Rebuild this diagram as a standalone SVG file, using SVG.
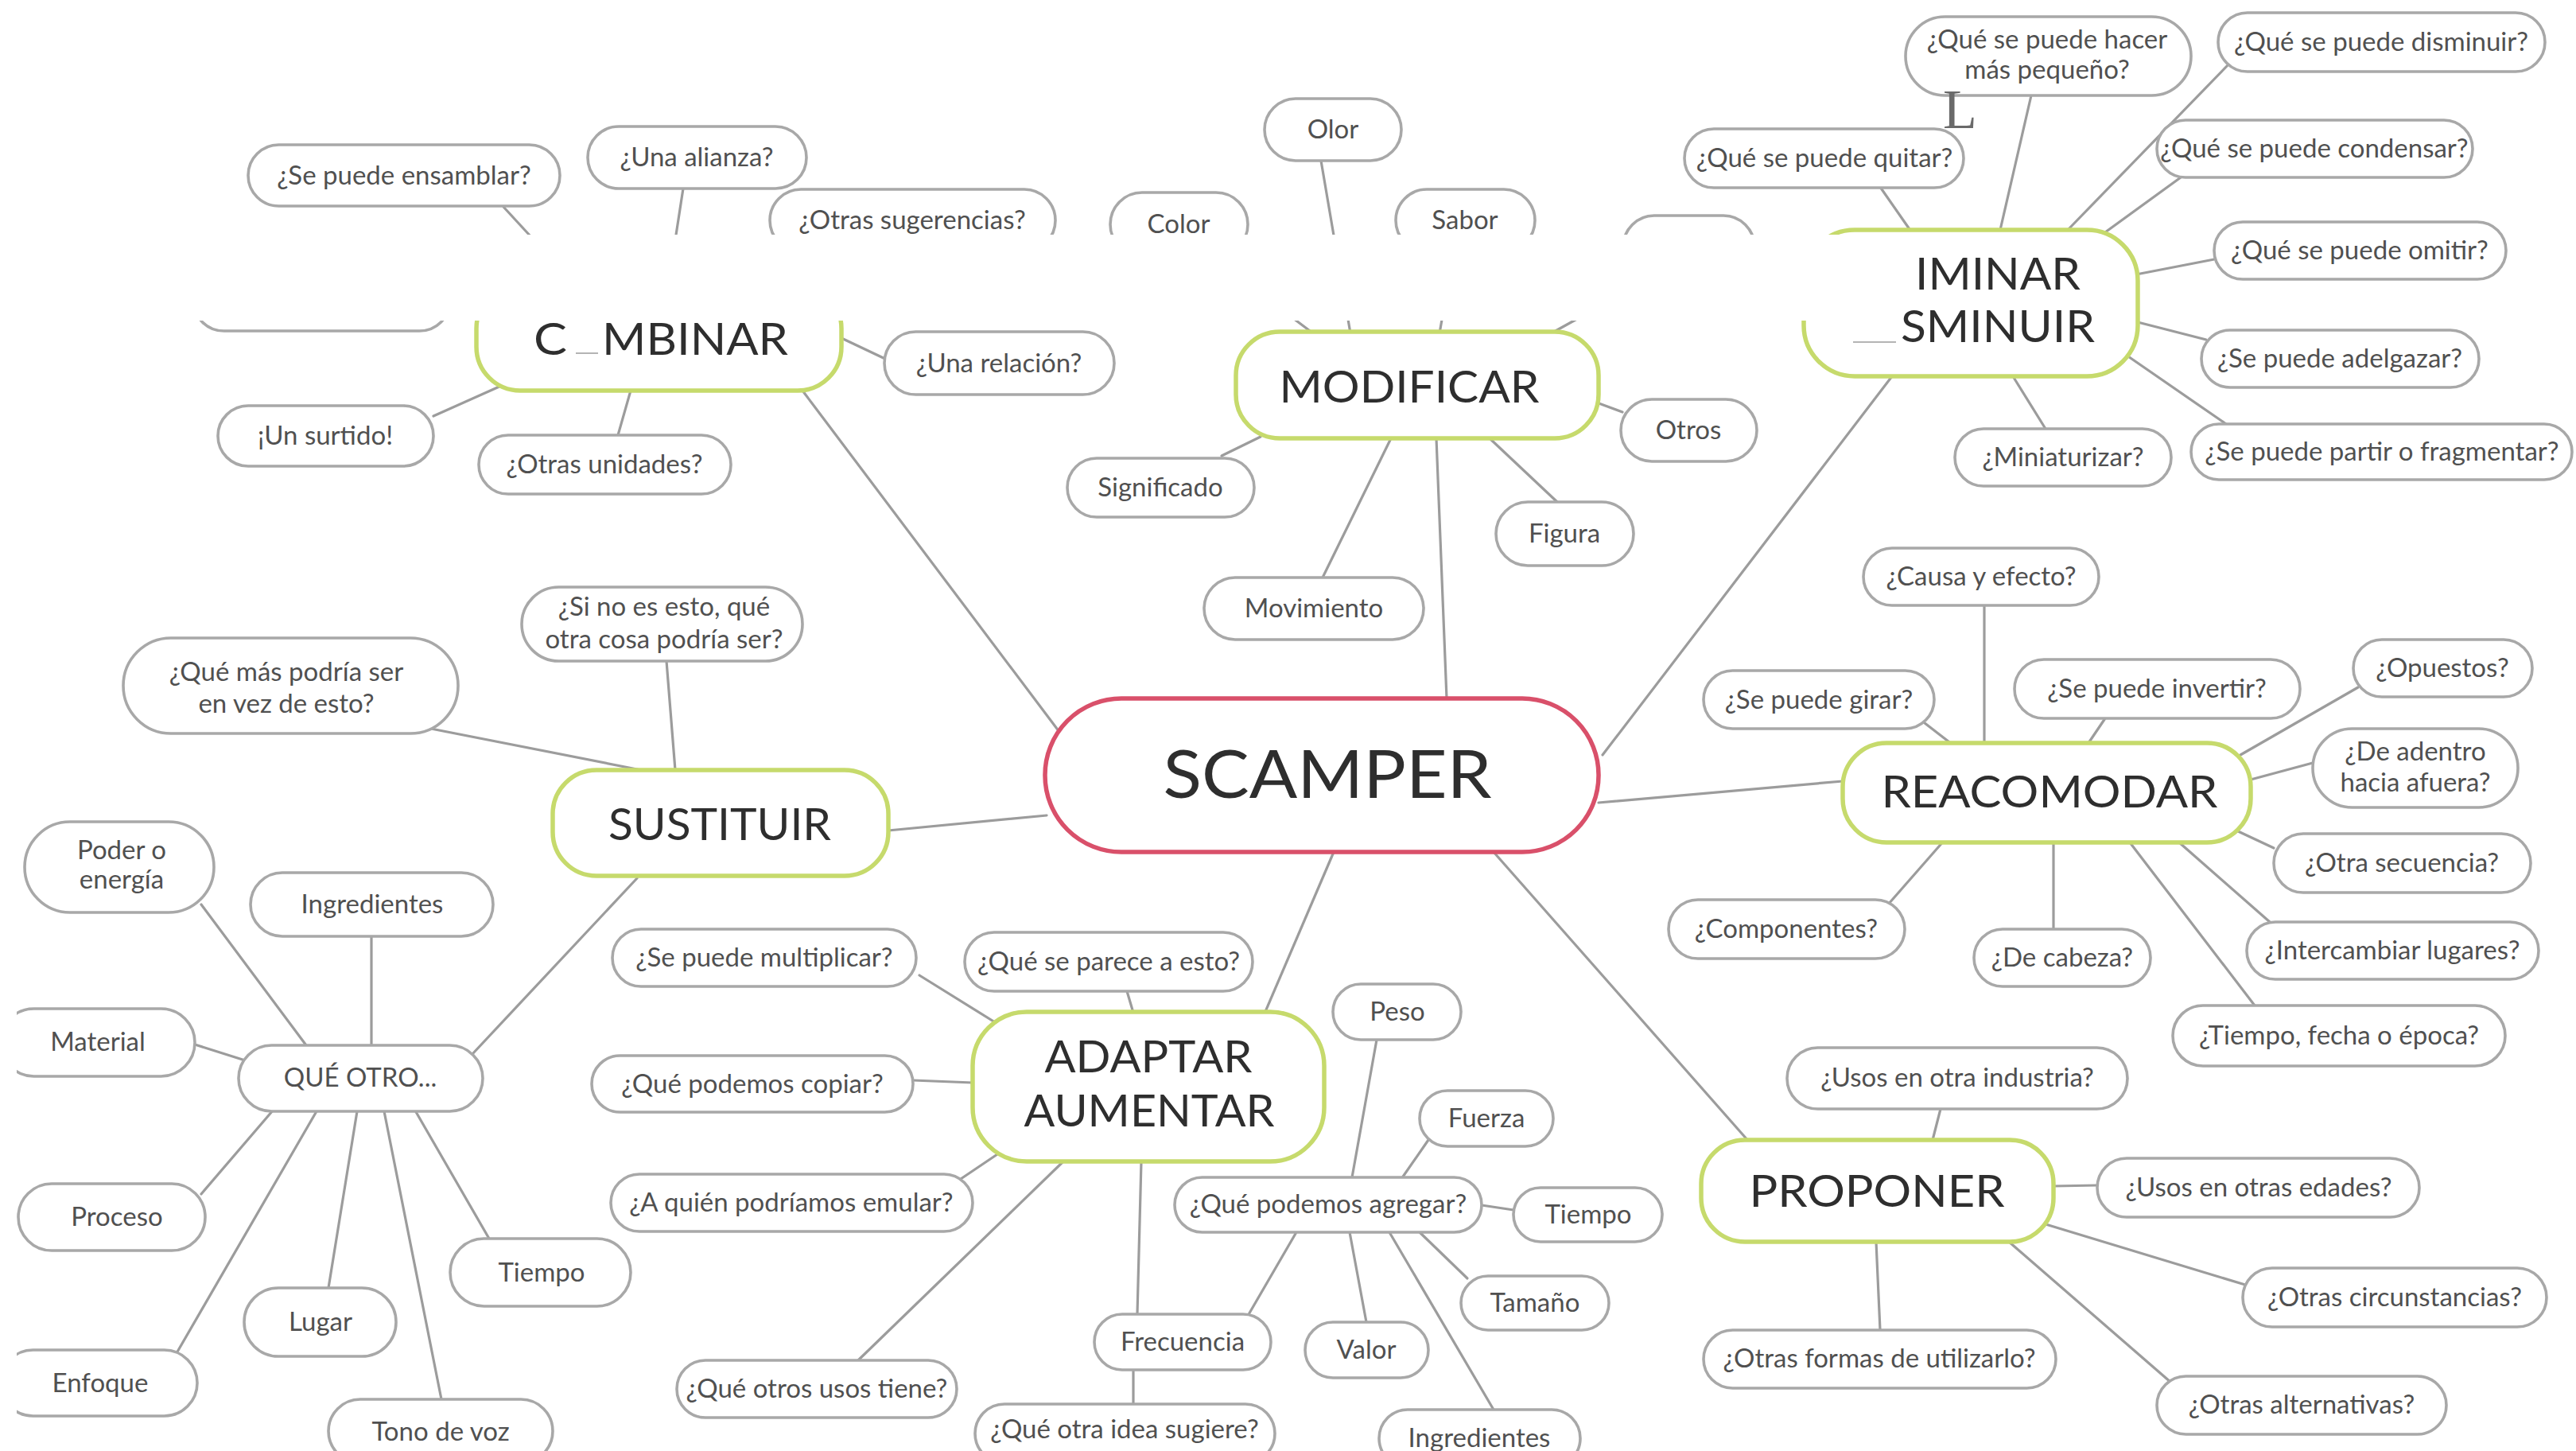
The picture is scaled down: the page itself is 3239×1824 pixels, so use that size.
<svg xmlns="http://www.w3.org/2000/svg" width="3239" height="1824" viewBox="0 0 3239 1824">
<defs>
<style>
.bg{fill:#ffffff}
.links line{stroke:#9c9c9c;stroke-width:3.2;stroke-linecap:round}
.leaf rect{fill:#ffffff;stroke:#a8a8a8;stroke-width:3.6}
.leaf text{font-family:Lato,"Open Sans","DejaVu Sans",sans-serif;font-size:33px;fill:#505050;text-anchor:middle}
.branch rect{fill:#ffffff;stroke:#c6da6c;stroke-width:5.5}
.branch text{font-family:Lato,"Open Sans","DejaVu Sans",sans-serif;font-size:56px;fill:#2e2e2e}
.root rect{fill:#ffffff;stroke:#d9506a;stroke-width:5.5}
.root text{font-family:Lato,"Open Sans","DejaVu Sans",sans-serif;font-size:84px;fill:#2e2e2e;text-anchor:middle}
.cover{fill:#ffffff}
.mid{text-anchor:middle}
</style>
</defs>
<rect class="bg" x="0" y="0" width="3239" height="1824"/>

<!-- connectors -->
<g id="connectors" class="links">
  <!-- COMBINAR -->
  <line x1="633" y1="260" x2="727" y2="362"/>
  <line x1="859" y1="237" x2="840" y2="360"/>
  <line x1="545" y1="523" x2="630" y2="485"/>
  <line x1="793" y1="491" x2="777" y2="547"/>
  <line x1="1058" y1="425" x2="1115" y2="452"/>
  <line x1="1009" y1="491" x2="1332" y2="920"/>
  <!-- MODIFICAR -->
  <line x1="1520" y1="320" x2="1655" y2="422"/>
  <line x1="1661" y1="202" x2="1698" y2="419"/>
  <line x1="1828" y1="316" x2="1810" y2="419"/>
  <line x1="2080" y1="347" x2="1945" y2="422"/>
  <line x1="2005" y1="505" x2="2040" y2="518"/>
  <line x1="1536" y1="573" x2="1585" y2="549"/>
  <line x1="1749" y1="551" x2="1663" y2="726"/>
  <line x1="1873" y1="551" x2="1958" y2="631"/>
  <line x1="1806" y1="551" x2="1819" y2="878"/>
  <!-- ELIMINAR / DISMINUIR -->
  <line x1="2364" y1="235" x2="2403" y2="291"/>
  <line x1="2554" y1="120" x2="2515" y2="289"/>
  <line x1="2802" y1="81" x2="2600" y2="289"/>
  <line x1="2742" y1="223" x2="2647" y2="292"/>
  <line x1="2686" y1="345" x2="2784" y2="326"/>
  <line x1="2688" y1="405" x2="2774" y2="427"/>
  <line x1="2673" y1="446" x2="2799" y2="533"/>
  <line x1="2531" y1="473" x2="2572" y2="539"/>
  <line x1="2379" y1="473" x2="2015" y2="949"/>
  <!-- REACOMODAR -->
  <line x1="2495" y1="761" x2="2495" y2="934"/>
  <line x1="2415" y1="905" x2="2455" y2="936"/>
  <line x1="2647" y1="903" x2="2626" y2="934"/>
  <line x1="2817" y1="949" x2="2965" y2="864"/>
  <line x1="2830" y1="980" x2="2908" y2="959"/>
  <line x1="2812" y1="1044" x2="2859" y2="1066"/>
  <line x1="2740" y1="1059" x2="2854" y2="1159"/>
  <line x1="2582" y1="1059" x2="2582" y2="1168"/>
  <line x1="2678" y1="1059" x2="2835" y2="1264"/>
  <line x1="2374" y1="1137" x2="2445" y2="1056"/>
  <line x1="2010" y1="1009" x2="2317" y2="982"/>
  <!-- SUSTITUIR -->
  <line x1="838" y1="831" x2="849" y2="968"/>
  <line x1="542" y1="916" x2="806" y2="968"/>
  <line x1="1117" y1="1044" x2="1316" y2="1025"/>
  <line x1="801" y1="1104" x2="594" y2="1325"/>
  <line x1="253" y1="1137" x2="385" y2="1314"/>
  <line x1="467" y1="1177" x2="467" y2="1314"/>
  <line x1="245" y1="1313" x2="305" y2="1332"/>
  <line x1="343" y1="1396" x2="253" y2="1501"/>
  <line x1="398" y1="1397" x2="222" y2="1701"/>
  <line x1="449" y1="1397" x2="413" y2="1619"/>
  <line x1="483" y1="1397" x2="555" y2="1759"/>
  <line x1="522" y1="1396" x2="615" y2="1557"/>
  <!-- ADAPTAR / AUMENTAR -->
  <line x1="1677" y1="1071" x2="1590" y2="1274"/>
  <line x1="1417" y1="1246" x2="1425" y2="1273"/>
  <line x1="1156" y1="1226" x2="1259" y2="1290"/>
  <line x1="1148" y1="1358" x2="1223" y2="1361"/>
  <line x1="1208" y1="1482" x2="1257" y2="1449"/>
  <line x1="1337" y1="1460" x2="1079" y2="1710"/>
  <line x1="1435" y1="1460" x2="1430" y2="1652"/>
  <line x1="1425" y1="1722" x2="1425" y2="1765"/>
  <line x1="1569" y1="1654" x2="1630" y2="1549"/>
  <line x1="1731" y1="1307" x2="1700" y2="1480"/>
  <line x1="1796" y1="1433" x2="1762" y2="1482"/>
  <line x1="1863" y1="1515" x2="1903" y2="1521"/>
  <line x1="1785" y1="1549" x2="1845" y2="1607"/>
  <line x1="1697" y1="1549" x2="1718" y2="1662"/>
  <line x1="1747" y1="1549" x2="1878" y2="1772"/>
  <!-- PROPONER -->
  <line x1="1878" y1="1071" x2="2199" y2="1435"/>
  <line x1="2440" y1="1394" x2="2430" y2="1433"/>
  <line x1="2582" y1="1491" x2="2637" y2="1490"/>
  <line x1="2569" y1="1538" x2="2823" y2="1615"/>
  <line x1="2526" y1="1561" x2="2730" y2="1738"/>
  <line x1="2359" y1="1561" x2="2364" y2="1672"/>
</g>

<!-- root -->
<g id="scamper" class="root">
  <rect x="1314" y="878" width="696" height="193" rx="96"/>
  <text x="1669" y="1003" textLength="413" lengthAdjust="spacingAndGlyphs">SCAMPER</text>
</g>

<!-- branches -->
<g id="combinar" class="branch">
  <rect x="599" y="358" width="459" height="133" rx="55"/>
  <text x="671" y="446" textLength="42" lengthAdjust="spacingAndGlyphs">C</text>
  <text x="757" y="446" textLength="234" lengthAdjust="spacingAndGlyphs">MBINAR</text>
</g>
<g id="modificar" class="branch">
  <rect x="1554" y="417" width="456" height="134" rx="55"/>
  <text class="mid" x="1772" y="506" textLength="327" lengthAdjust="spacingAndGlyphs">MODIFICAR</text>
</g>
<g id="eliminar" class="branch">
  <rect x="2268" y="289" width="420" height="184" rx="64"/>
  <text x="2408" y="364" textLength="208" lengthAdjust="spacingAndGlyphs">IMINAR</text>
  <text x="2390" y="430" textLength="244" lengthAdjust="spacingAndGlyphs">SMINUIR</text>
</g>
<g id="sustituir" class="branch">
  <rect x="695" y="968" width="422" height="133" rx="55"/>
  <text class="mid" x="905" y="1056" textLength="280" lengthAdjust="spacingAndGlyphs">SUSTITUIR</text>
</g>
<g id="reacomodar" class="branch">
  <rect x="2317" y="934" width="513" height="125" rx="55"/>
  <text class="mid" x="2577" y="1015" textLength="423" lengthAdjust="spacingAndGlyphs">REACOMODAR</text>
</g>
<g id="adaptar" class="branch">
  <rect x="1223" y="1272" width="442" height="188" rx="68"/>
  <text class="mid" x="1444" y="1348" textLength="261" lengthAdjust="spacingAndGlyphs">ADAPTAR</text>
  <text class="mid" x="1445" y="1416" textLength="315" lengthAdjust="spacingAndGlyphs">AUMENTAR</text>
</g>
<g id="proponer" class="branch">
  <rect x="2139" y="1433" width="443" height="128" rx="55"/>
  <text class="mid" x="2360" y="1517" textLength="321" lengthAdjust="spacingAndGlyphs">PROPONER</text>
</g>

<!-- leaves: COMBINAR -->
<g id="n-ensamblar" class="leaf"><rect x="312" y="182" width="392" height="77" rx="38.5"/><text x="508" y="232">¿Se puede ensamblar?</text></g>
<g id="n-alianza" class="leaf"><rect x="739" y="159" width="275" height="78" rx="39"/><text x="876" y="209">¿Una alianza?</text></g>
<g id="n-sugerencias" class="leaf"><rect x="968" y="238" width="359" height="78" rx="39"/><text x="1147" y="288">¿Otras sugerencias?</text></g>
<g id="n-oculto-izq" class="leaf"><rect x="243" y="339" width="323" height="77" rx="38.5"/></g>
<g id="n-relacion" class="leaf"><rect x="1112" y="417" width="289" height="79" rx="39.5"/><text x="1256" y="468">¿Una relación?</text></g>
<g id="n-surtido" class="leaf"><rect x="274" y="510" width="271" height="76" rx="38"/><text x="409" y="559">¡Un surtido!</text></g>
<g id="n-unidades" class="leaf"><rect x="602" y="547" width="317" height="74" rx="37"/><text x="760" y="595">¿Otras unidades?</text></g>

<!-- leaves: MODIFICAR -->
<g id="n-color" class="leaf"><rect x="1396" y="242" width="173" height="80" rx="40"/><text x="1482" y="293">Color</text></g>
<g id="n-olor" class="leaf"><rect x="1590" y="124" width="172" height="78" rx="39"/><text x="1676" y="174">Olor</text></g>
<g id="n-sabor" class="leaf"><rect x="1755" y="238" width="175" height="78" rx="39"/><text x="1842" y="288">Sabor</text></g>
<g id="n-oculto-der" class="leaf"><rect x="2041" y="271" width="165" height="78" rx="39"/></g>
<g id="n-significado" class="leaf"><rect x="1342" y="576" width="235" height="74" rx="37"/><text x="1459" y="624">Significado</text></g>
<g id="n-otros" class="leaf"><rect x="2038" y="502" width="171" height="78" rx="39"/><text x="2123" y="552">Otros</text></g>
<g id="n-figura" class="leaf"><rect x="1881" y="631" width="173" height="80" rx="40"/><text x="1967" y="682">Figura</text></g>
<g id="n-movimiento" class="leaf"><rect x="1514" y="726" width="276" height="78" rx="39"/><text x="1652" y="776">Movimiento</text></g>

<!-- leaves: ELIMINAR / DISMINUIR -->
<g id="n-quitar" class="leaf"><rect x="2118" y="162" width="351" height="74" rx="37"/><text x="2294" y="210">¿Qué se puede quitar?</text></g>
<g id="n-pequeno" class="leaf"><rect x="2396" y="21" width="359" height="99" rx="49.5"/><text><tspan x="2574" y="61">¿Qué se puede hacer</tspan><tspan x="2574" y="99">más pequeño?</tspan></text></g>
<g id="n-disminuir" class="leaf"><rect x="2789" y="16" width="411" height="74" rx="37"/><text x="2994" y="64">¿Qué se puede disminuir?</text></g>
<g id="n-condensar" class="leaf"><rect x="2712" y="151" width="397" height="72" rx="36"/><text x="2910" y="198">¿Qué se puede condensar?</text></g>
<g id="n-omitir" class="leaf"><rect x="2784" y="279" width="367" height="72" rx="36"/><text x="2967" y="326">¿Qué se puede omitir?</text></g>
<g id="n-adelgazar" class="leaf"><rect x="2768" y="415" width="349" height="72" rx="36"/><text x="2942" y="462">¿Se puede adelgazar?</text></g>
<g id="n-partir" class="leaf"><rect x="2755" y="533" width="479" height="70" rx="35"/><text x="2995" y="579">¿Se puede partir o fragmentar?</text></g>
<g id="n-miniaturizar" class="leaf"><rect x="2458" y="539" width="272" height="72" rx="36"/><text x="2594" y="586">¿Miniaturizar?</text></g>

<!-- leaves: REACOMODAR -->
<g id="n-causa" class="leaf"><rect x="2343" y="689" width="296" height="72" rx="36"/><text x="2491" y="736">¿Causa y efecto?</text></g>
<g id="n-girar" class="leaf"><rect x="2142" y="843" width="290" height="73" rx="36.5"/><text x="2287" y="891">¿Se puede girar?</text></g>
<g id="n-invertir" class="leaf"><rect x="2533" y="829" width="359" height="74" rx="37"/><text x="2712" y="877">¿Se puede invertir?</text></g>
<g id="n-opuestos" class="leaf"><rect x="2959" y="804" width="225" height="72" rx="36"/><text x="3071" y="851">¿Opuestos?</text></g>
<g id="n-adentro" class="leaf"><rect x="2908" y="916" width="258" height="99" rx="49.5"/><text><tspan x="3037" y="956">¿De adentro</tspan><tspan x="3037" y="995">hacia afuera?</tspan></text></g>
<g id="n-secuencia" class="leaf"><rect x="2859" y="1048" width="323" height="74" rx="37"/><text x="3020" y="1096">¿Otra secuencia?</text></g>
<g id="n-intercambiar" class="leaf"><rect x="2825" y="1159" width="367" height="72" rx="36"/><text x="3008" y="1206">¿Intercambiar lugares?</text></g>
<g id="n-componentes" class="leaf"><rect x="2098" y="1131" width="297" height="74" rx="37"/><text x="2246" y="1179">¿Componentes?</text></g>
<g id="n-cabeza" class="leaf"><rect x="2482" y="1168" width="222" height="72" rx="36"/><text x="2593" y="1215">¿De cabeza?</text></g>
<g id="n-tiempofecha" class="leaf"><rect x="2732" y="1264" width="418" height="76" rx="38"/><text x="2941" y="1313">¿Tiempo, fecha o época?</text></g>

<!-- leaves: PROPONER -->
<g id="n-industria" class="leaf"><rect x="2247" y="1317" width="428" height="77" rx="38.5"/><text x="2461" y="1366">¿Usos en otra industria?</text></g>
<g id="n-edades" class="leaf"><rect x="2637" y="1456" width="405" height="74" rx="37"/><text x="2840" y="1504">¿Usos en otras edades?</text></g>
<g id="n-circunstancias" class="leaf"><rect x="2820" y="1594" width="382" height="74" rx="37"/><text x="3011" y="1642">¿Otras circunstancias?</text></g>
<g id="n-formas" class="leaf"><rect x="2142" y="1672" width="443" height="73" rx="36.5"/><text x="2363" y="1719">¿Otras formas de utilizarlo?</text></g>
<g id="n-alternativas" class="leaf"><rect x="2712" y="1730" width="364" height="73" rx="36.5"/><text x="2894" y="1777">¿Otras alternativas?</text></g>

<!-- leaves: ADAPTAR / AUMENTAR -->
<g id="n-parece" class="leaf"><rect x="1213" y="1172" width="362" height="74" rx="37"/><text x="1394" y="1220">¿Qué se parece a esto?</text></g>
<g id="n-multiplicar" class="leaf"><rect x="770" y="1168" width="382" height="72" rx="36"/><text x="961" y="1215">¿Se puede multiplicar?</text></g>
<g id="n-copiar" class="leaf"><rect x="744" y="1327" width="404" height="71" rx="35.5"/><text x="946" y="1374">¿Qué podemos copiar?</text></g>
<g id="n-emular" class="leaf"><rect x="768" y="1476" width="455" height="72" rx="36"/><text x="995" y="1523">¿A quién podríamos emular?</text></g>
<g id="n-otrosusos" class="leaf"><rect x="851" y="1710" width="352" height="72" rx="36"/><text x="1027" y="1757">¿Qué otros usos tiene?</text></g>
<g id="n-frecuencia" class="leaf"><rect x="1376" y="1652" width="222" height="70" rx="35"/><text x="1487" y="1698">Frecuencia</text></g>
<g id="n-otraidea" class="leaf"><rect x="1226" y="1765" width="377" height="74" rx="37"/><text x="1414" y="1808">¿Qué otra idea sugiere?</text></g>
<g id="n-agregar" class="leaf"><rect x="1477" y="1480" width="386" height="69" rx="34.5"/><text x="1670" y="1525">¿Qué podemos agregar?</text></g>
<g id="n-peso" class="leaf"><rect x="1676" y="1237" width="161" height="70" rx="35"/><text x="1757" y="1283">Peso</text></g>
<g id="n-fuerza" class="leaf"><rect x="1785" y="1371" width="168" height="70" rx="35"/><text x="1869" y="1417">Fuerza</text></g>
<g id="n-tiempo2" class="leaf"><rect x="1903" y="1493" width="187" height="68" rx="34"/><text x="1997" y="1538">Tiempo</text></g>
<g id="n-tamano" class="leaf"><rect x="1837" y="1604" width="186" height="68" rx="34"/><text x="1930" y="1649">Tamaño</text></g>
<g id="n-valor" class="leaf"><rect x="1641" y="1662" width="155" height="70" rx="35"/><text x="1718" y="1708">Valor</text></g>
<g id="n-ingredientes2" class="leaf"><rect x="1734" y="1772" width="253" height="72" rx="36"/><text x="1860" y="1819">Ingredientes</text></g>

<!-- leaves: SUSTITUIR -->
<g id="n-sinoes" class="leaf"><rect x="656" y="738" width="353" height="93" rx="46.5"/><text><tspan x="835" y="774">¿Si no es esto, qué</tspan><tspan x="835" y="815">otra cosa podría ser?</tspan></text></g>
<g id="n-maspodria" class="leaf"><rect x="155" y="802" width="421" height="120" rx="60"/><text><tspan x="360" y="856">¿Qué más podría ser</tspan><tspan x="360" y="896">en vez de esto?</tspan></text></g>
<g id="n-poder" class="leaf"><rect x="31" y="1033" width="238" height="114" rx="57"/><text><tspan x="153" y="1080">Poder o</tspan><tspan x="153" y="1117">energía</tspan></text></g>
<g id="n-ingredientes1" class="leaf"><rect x="315" y="1097" width="305" height="80" rx="40"/><text x="468" y="1148">Ingredientes</text></g>
<g id="n-queotro" class="leaf"><rect x="300" y="1314" width="307" height="83" rx="41.5"/><text x="453" y="1366">QUÉ OTRO...</text></g>
<g id="n-material" class="leaf"><rect x="0" y="1268" width="245" height="85" rx="42.5"/><text x="123" y="1321">Material</text></g>
<g id="n-proceso" class="leaf"><rect x="23" y="1488" width="235" height="84" rx="42"/><text x="147" y="1541">Proceso</text></g>
<g id="n-tiempo1" class="leaf"><rect x="566" y="1557" width="227" height="85" rx="42.5"/><text x="681" y="1611">Tiempo</text></g>
<g id="n-lugar" class="leaf"><rect x="307" y="1619" width="191" height="86" rx="43"/><text x="403" y="1673">Lugar</text></g>
<g id="n-enfoque" class="leaf"><rect x="0" y="1697" width="248" height="83" rx="41.5"/><text x="126" y="1750">Enfoque</text></g>
<g id="n-tonovoz" class="leaf"><rect x="413" y="1759" width="282" height="80" rx="40"/><text x="554" y="1811">Tono de voz</text></g>

<!-- blank strips laid over the drawing -->
<g id="blank-areas">
  <path class="cover" d="M0 295 H2403 V385 H2386 V403 H0 Z"/>
  <rect class="cover" x="2325" y="403" width="61" height="26"/>
  <rect class="cover" x="716" y="403" width="40" height="40"/>
  <rect class="cover" x="0" y="1250" width="21" height="574"/>
</g>
<!-- letter remnants below the blank strips -->
<g id="remnants" fill="#b4b4b4">
  <rect x="724" y="443" width="28" height="2"/>
  <rect x="2330" y="429" width="54" height="2"/>
</g>
<text x="2443" y="161" font-family="'Liberation Serif',serif" font-size="70" fill="#6a6a6a">L</text>
</svg>
